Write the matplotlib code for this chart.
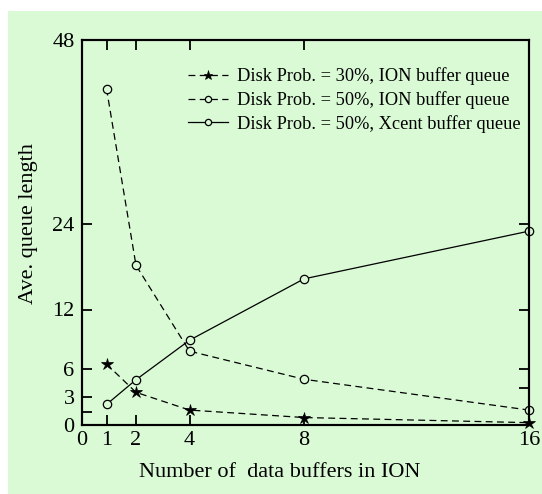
import numpy as np
import matplotlib
matplotlib.use('Agg')
import matplotlib.pyplot as plt
from matplotlib.patches import Rectangle

# datos
buffers = [1, 2, 4, 8, 16]
ion_30 = [6.5, 3.5, 1.6, 0.8, 0.25]
ion_50 = [41.7, 18.2, 7.8, 4.9, 1.6]
xcent_50 = [2.2, 4.85, 8.9, 16.3, 23.0]

etiquetas = ['Disk Prob. = 30%, ION buffer queue',
             'Disk Prob. = 50%, ION buffer queue',
             'Disk Prob. = 50%, Xcent buffer queue']

x_ticks = [0, 1, 2, 4, 8, 16]
y_ticks_izq = [0, 1.36, 3, 6, 12, 24, 48]
y_labels_izq = ['0', '', '3', '6', '12', '24', '48']
y_ticks_der = [0, 3.96, 6, 12, 24, 48]

# escalas no lineales del original (valor -> posicion relativa)
x_val = np.array([0, 1, 2, 4, 8, 16])
x_pos = np.array([81.5, 106.5, 136, 189.5, 304, 529])
y_val = np.array([0, 3, 6, 12, 24, 48])
y_pos = np.array([425, 397, 369, 309.5, 224, 40.5])
y_pos = y_pos[0] - y_pos


def escala(vals, pos):
    def ida(v):
        return np.interp(v, vals, pos)

    def vuelta(p):
        return np.interp(p, pos, vals)
    return ida, vuelta


plt.rcParams['font.family'] = ['Liberation Serif', 'DejaVu Serif']
verde = '#d9fad5'

fig = plt.figure(figsize=(5.42, 4.94), dpi=100)
fig.patch.set_facecolor('white')
fig.patches.append(Rectangle((8 / 542, 0), 534 / 542, 483 / 494,
                             transform=fig.transFigure, facecolor=verde,
                             edgecolor='none', zorder=-10))

ax = fig.add_axes([81.5 / 542, 1 - 425 / 494, 447.5 / 542, 384.5 / 494])
ax.set_facecolor(verde)
ax.set_xscale('function', functions=escala(x_val, x_pos))
ax.set_yscale('function', functions=escala(y_val, y_pos))

guiones = (0, (5.5, 3.5))
ax.plot(buffers, ion_30, color='black', lw=0.9, linestyle=guiones,
        marker='*', markersize=9, markerfacecolor='black', markeredgewidth=0.5,
        label=etiquetas[0], clip_on=False)
ax.plot(buffers, ion_50, color='black', lw=0.9, linestyle=guiones,
        marker='o', markersize=6, markerfacecolor=verde, markeredgewidth=0.9,
        label=etiquetas[1], clip_on=False)
ax.plot(buffers, xcent_50, color='black', lw=0.9, linestyle='-',
        marker='o', markersize=6, markerfacecolor=verde, markeredgewidth=0.9,
        label=etiquetas[2], clip_on=False)

ax.set_xlim(0, 16)
ax.set_ylim(0, 48)
ax.set_xticks(x_ticks)
ax.set_xticklabels([str(t) for t in x_ticks])
ax.set_yticks(y_ticks_izq)
ax.set_yticklabels(y_labels_izq)
ax.minorticks_off()
ax.tick_params(axis='x', direction='in', top=True, length=7, width=1.3,
               labelsize=16, pad=4)
ax.tick_params(axis='y', direction='in', length=7, width=1.3,
               labelsize=16, pad=5)

der = ax.twinx()
der.set_yscale('function', functions=escala(y_val, y_pos))
der.set_ylim(0, 48)
der.set_yticks(y_ticks_der)
der.minorticks_off()
der.tick_params(axis='y', direction='in', length=7, width=1.3, labelright=False)

for a in (ax, der):
    for s in a.spines.values():
        s.set_linewidth(1.5)

ax.set_xlabel('Number of  data buffers in ION', fontsize=16)
ax.xaxis.set_label_coords(0.4436, -0.1)
ax.set_ylabel('Ave. queue length', fontsize=16)
ax.yaxis.set_label_coords(-0.098, 0.525)

ax.legend(loc='upper left', bbox_to_anchor=(0.238, 0.93), frameon=False,
          fontsize=13.2, handlelength=2.2, handletextpad=0.45, numpoints=1,
          labelspacing=0.32, borderpad=0, borderaxespad=0, markerscale=0.75)

fig.savefig('out.png', dpi=100)
